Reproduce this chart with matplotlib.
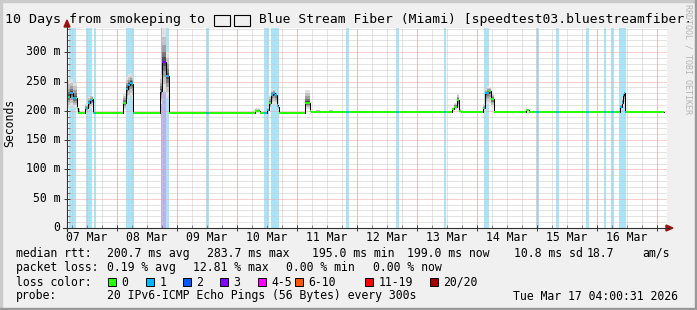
import matplotlib
matplotlib.use("Agg")
import matplotlib.pyplot as plt
from matplotlib.patches import Rectangle, Polygon
from matplotlib.lines import Line2D
from datetime import datetime

W, H = 697, 310
start = datetime(2026, 3, 7, 4, 0, 31)
span_h = 240.0
ymax = 341.3

# median rtt (ms), step values, time in hours after start
hours = [0.0, 1.2, 2.5, 3.9, 4.4, 5.2,
         7.2, 8.5, 9.2, 9.9, 10.5,
         22.5, 23.6, 24.5, 25.2, 25.9, 26.5,
         37.2, 37.9, 39.6, 40.8,
         75.2, 77.2,
         79.9, 80.9, 81.5, 82.5, 83.2, 83.9, 84.5, 84.9,
         95.2, 97.2, 97.6,
         99.6, 101.0, 104.8, 106.2,
         153.9, 154.8, 155.9, 156.9, 157.6,
         166.5, 167.2, 168.1, 168.9, 169.5, 170.8,
         183.6, 184.7,
         221.2, 221.9, 222.5, 222.9, 223.3, 238.8]
median = [224, 230, 222, 205, 197, 195.6,
          204, 213, 218, 220, 195.6,
          213, 238, 244, 248, 246, 195.6,
          233, 284, 259, 195.6,
          200, 195.6,
          201, 213, 227, 230, 227, 210, 207, 195.6,
          214, 200, 198.8,
          198.8, 198.8, 198.8, 198.8,
          202.5, 207, 218, 200, 198.8,
          205, 230, 231, 234, 220, 198.8,
          201, 198.8,
          207, 214, 227, 230, 198.8, 198.8]
smoke_lo = [205, 208, 205, 200, 196, 195.6,
            199, 203, 205, 206, 195.6,
            202, 214, 222, 225, 220, 195.6,
            212, 232, 222, 195.6,
            197, 195.6,
            198, 204, 210, 212, 210, 204, 202, 195.6,
            203, 198, 198.8,
            198, 198.8, 198, 198.8,
            199, 201, 205, 199, 198.8,
            200, 210, 212, 214, 206, 198.8,
            199, 198.8,
            201, 204, 208, 210, 198.8, 198.8]
smoke_hi = [252, 254, 248, 222, 204, 195.6,
            212, 224, 227, 226, 195.6,
            230, 258, 262, 264, 260, 195.6,
            262, 341, 300, 195.6,
            204, 195.6,
            206, 226, 236, 238, 234, 222, 214, 195.6,
            235, 205, 198.8,
            202, 198.8, 202, 198.8,
            206, 214, 230, 203, 198.8,
            212, 238, 242, 240, 230, 198.8,
            203, 198.8,
            212, 222, 232, 232, 198.8, 198.8]

# loss periods (hours after start) and loss class
loss_start = [0.8, 7.6, 10.8, 23.6, 37.6, 39.6, 55.6, 78.8, 81.6, 111.6, 131.6,
              150.8, 166.8, 187.6, 195.6, 207.6, 214.8, 217.6, 220.8]
loss_end = [3.6, 10.0, 11.6, 26.8, 39.6, 40.8, 56.8, 80.8, 84.8, 112.8, 132.8,
            151.6, 168.8, 188.8, 196.8, 208.8, 215.6, 218.8, 223.6]
loss_class = [1, 1, 1, 1, 3, 1, 1, 1, 1, 1, 1, 1, 1, 1, 1, 1, 1, 1, 1]

loss_labels = ["0", "1", "2", "3", "4-5", "6-10", "11-19", "20/20"]
loss_colors = ["#26ff00", "#00b8ff", "#0059ff", "#7e00ff", "#ff00ff", "#ff5500", "#ff0000", "#a00000"]
band_colors = {1: "#aae4f8", 3: "#b8b0f0"}

day_labels = ["07 Mar", "08 Mar", "09 Mar", "10 Mar", "11 Mar",
              "12 Mar", "13 Mar", "14 Mar", "15 Mar", "16 Mar"]

mono = "DejaVu Sans Mono"
fs = 8.3


def fx(x):
    return x / W


def fy(y):
    return 1 - y / H


def hrs(dt):
    return (dt - start).total_seconds() / 3600.0


fig = plt.figure(figsize=(W / 100, H / 100), dpi=100)
fig.patch.set_facecolor("#f0f0f0")

ax = fig.add_axes([fx(67), fy(228), 600 / W, 200 / H])
ax.set_facecolor("white")
ax.set_xlim(0, span_h)
ax.set_ylim(0, ymax)
for s in ax.spines.values():
    s.set_visible(False)

# loss background bands
for s, e, c in zip(loss_start, loss_end, loss_class):
    ax.axvspan(s, e, color=band_colors[c], lw=0, zorder=0.5)

# grid
dot = (0, (1, 1))
midnights = [hrs(datetime(2026, 3, d)) for d in range(8, 18)]
six = [hrs(datetime(2026, 3, 7, 6)) + 6 * k for k in range(40)]
for x in six:
    if 0 < x < span_h:
        ax.axvline(x, color="#c8c8c8", lw=0.72, ls=dot, zorder=1)
for y in range(10, 341, 10):
    if y % 50:
        ax.axhline(y, color="#c8c8c8", lw=0.72, ls=dot, zorder=1)
for x in midnights:
    if x < span_h:
        ax.axvline(x, color="#f0a0a0", lw=0.72, ls=dot, zorder=1.1)
for y in range(50, 341, 50):
    ax.axhline(y, color="#f0a0a0", lw=0.72, ls=dot, zorder=1.1)

# smoke
fracs = [1.0, 0.75, 0.5, 0.3, 0.15]
greys = ["#e0e0e0", "#c4c4c4", "#a0a0a0", "#787878", "#505050"]
for f, g in zip(fracs, greys):
    lo = [m - f * (m - l) for m, l in zip(median, smoke_lo)]
    hi = [m + f * (h - m) for m, h in zip(median, smoke_hi)]
    ax.fill_between(hours, lo, hi, step="post", color=g, lw=0, zorder=2)

# median line
ax.step(hours, median, where="post", color="black", lw=0.72, zorder=3)
ax.hlines(median[:-1], hours[:-1], hours[1:], colors=loss_colors[0], lw=1.44, zorder=4)
for s, e, c in zip(loss_start, loss_end, loss_class):
    lc = ax.hlines(median[:-1], hours[:-1], hours[1:], colors=loss_colors[c], lw=1.44, zorder=4.1)
    lc.set_clip_path(Rectangle((s, 0), e - s, ymax, transform=ax.transData))

# ticks
ax.set_xticks([m for m in midnights if m < span_h])
ax.set_xticks([x for x in six if 0 < x < span_h], minor=True)
ax.set_yticks(range(0, 341, 50))
ax.set_yticks(range(0, 341, 10), minor=True)
ax.tick_params(which="major", direction="inout", length=4, width=0.72, color="#404040",
               labelbottom=False, labelleft=False)
ax.tick_params(which="minor", direction="in", length=2, width=0.72, color="#808080")

# axis lines and arrows
fig.add_artist(Line2D([fx(67), fx(67)], [fy(231), fy(25)], color="#303030", lw=0.8))
fig.add_artist(Line2D([fx(63), fx(669)], [fy(228), fy(228)], color="#303030", lw=0.8))
fig.add_artist(Polygon([(fx(67), fy(20)), (fx(64), fy(27)), (fx(70), fy(27))],
                       closed=True, color="#a01010", transform=fig.transFigure))
fig.add_artist(Polygon([(fx(673), fy(228)), (fx(666), fy(225)), (fx(666), fy(231))],
                       closed=True, color="#a01010", transform=fig.transFigure))

# y tick labels
for v in range(0, 301, 50):
    lab = "0" if v == 0 else f"{v} m"
    fig.text(fx(60), fy(228 - v * 200 / ymax) + 0.5 / H, lab, ha="right", va="center",
             family=mono, fontsize=fs)
fig.text(fx(10), fy(123), "Seconds", rotation=90, ha="center", va="center",
         family=mono, fontsize=fs)

# x day labels at noon
for i, lab in enumerate(day_labels):
    x = hrs(datetime(2026, 3, 7 + i, 12))
    fig.text(fx(67 + x * 2.5), fy(241), lab, ha="center", va="baseline",
             family=mono, fontsize=fs)

# title (two glyphs render as missing-glyph boxes in the original)
fig.text(fx(5), fy(23), "10 Days from smokeping to", ha="left", va="baseline",
         family=mono, fontsize=9.6)
for bx in (214, 234):
    fig.add_artist(Rectangle((fx(bx), fy(26)), 16 / W, 11 / H, fill=False,
                             ec="black", lw=0.8, transform=fig.transFigure))
fig.text(fx(259), fy(23), "Blue Stream Fiber (Miami) [speedtest03.bluestreamfiber.",
         ha="left", va="baseline", family=mono, fontsize=9.4)

fig.text(fx(688), fy(4), "RRDTOOL / TOBI OETIKER", rotation=270, ha="center", va="top",
         family=mono, fontsize=6, color="#b4b4b4")

# legend lines
line1 = [(16, "median rtt:"), (107, "200.7 ms avg"), (207, "283.7 ms max"),
         (312, "195.0 ms min"), (407, "199.0 ms now"), (514, "10.8 ms sd"),
         (587, "18.7"), (642, "am/s")]
line2 = [(16, "packet loss:"), (107, "0.19 % avg"), (193, "12.81 % max"),
         (286, "0.00 % min"), (373, "0.00 % now")]
line4 = [(16, "probe:"), (107, "20 IPv6-ICMP Echo Pings (56 Bytes) every 300s"),
         (513, "Tue Mar 17 04:00:31 2026")]
for yb, items in ((257, line1), (271, line2), (299.5, line4)):
    for x, t in items:
        fig.text(fx(x), fy(yb), t, ha="left", va="baseline", family=mono, fontsize=fs)

fig.text(fx(16), fy(285.5), "loss color:", ha="left", va="baseline", family=mono, fontsize=fs)
box_x = [108, 146, 183, 220, 258, 295, 365, 430]
for bx, lab, col in zip(box_x, loss_labels, loss_colors):
    fig.add_artist(Rectangle((fx(bx), fy(285.5)), 8 / W, 8 / H, fc=col, ec="black",
                             lw=0.7, transform=fig.transFigure))
    fig.text(fx(bx + 13.5), fy(285.5), lab, ha="left", va="baseline", family=mono, fontsize=fs)

# 3d frame
fig.add_artist(Rectangle((0, 0), 2 / W, 1, color="#cbcbcb", transform=fig.transFigure))
fig.add_artist(Rectangle((0, 1 - 2 / H), 1, 2 / H, color="#cbcbcb", transform=fig.transFigure))
fig.add_artist(Rectangle((1 - 2 / W, 0), 2 / W, 1, color="#999999", transform=fig.transFigure))
fig.add_artist(Rectangle((0, 0), 1, 2 / H, color="#999999", transform=fig.transFigure))

fig.savefig("out.png", dpi=100, facecolor=fig.get_facecolor())
